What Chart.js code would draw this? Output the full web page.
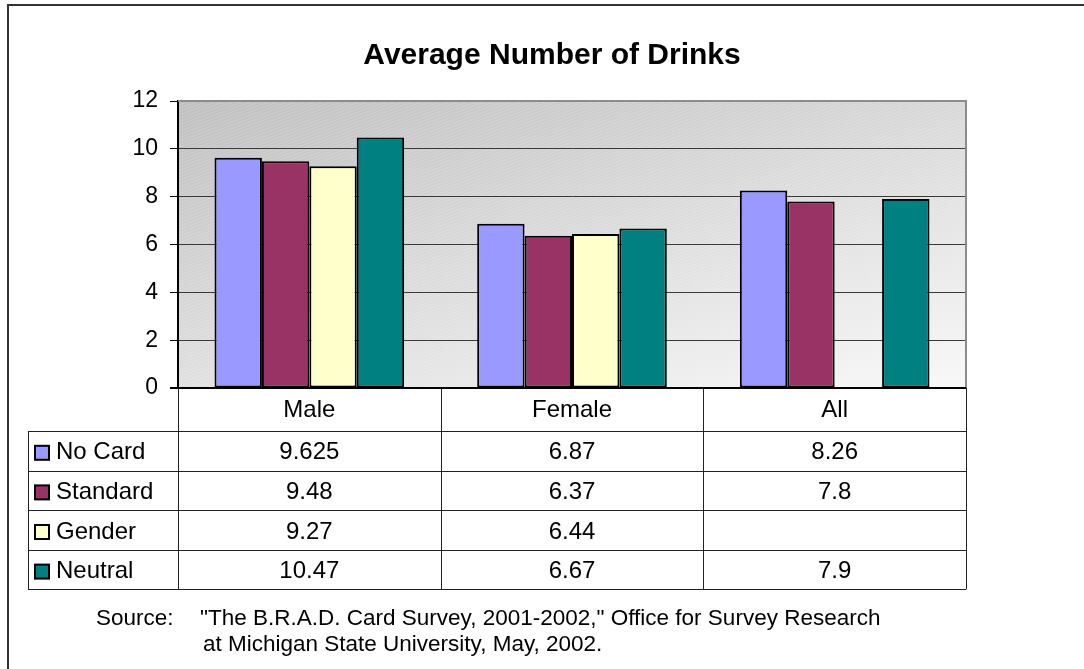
<!DOCTYPE html>
<html>
<head>
<meta charset="utf-8">
<script src="https://cdn.jsdelivr.net/npm/chart.js@4"></script>
<style>
  html, body { margin: 0; padding: 0; background: #fff; }
  #wrap { width: 1084px; height: 669px; }
</style>
</head>
<body>
<div id="wrap"><canvas id="myChart" width="1084" height="669"></canvas></div>
<script>
// categories along x
const categories = ['Male', 'Female', 'All'];

// series
const seriesNames = ['No Card', 'Standard', 'Gender', 'Neutral'];
const noCard   = [9.625, 6.87, 8.26];
const standard = [9.48, 6.37, 7.8];
const gender   = [9.27, 6.44, null];
const neutral  = [10.47, 6.67, 7.9];
const seriesColors = ['#9999FF', '#993366', '#FFFFCC', '#008080'];

// y ticks
const yTicks = [0, 2, 4, 6, 8, 10, 12];

const titleText = 'Average Number of Drinks';
const sourceLabel = 'Source:';
const sourceLines = [
  '"The B.R.A.D. Card Survey, 2001-2002," Office for Survey Research',
  'at Michigan State University, May, 2002.'
];

const FONT = '"Liberation Sans", Arial, sans-serif';
const allSeries = [noCard, standard, gender, neutral];

const datasets = seriesNames.map((name, i) => ({
  label: name,
  data: allSeries[i],
  backgroundColor: seriesColors[i],
  borderColor: '#000',
  borderWidth: 2,
  borderSkipped: false,
  categoryPercentage: 0.722,
  barPercentage: 1.0
}));

// background, frame, data table and captions
const sheet = {
  id: 'sheet',
  beforeDraw(chart) {
    const ctx = chart.ctx;
    const a = chart.chartArea;
    ctx.save();
    ctx.fillStyle = '#fff';
    ctx.fillRect(0, 0, chart.width, chart.height);
    // outer frame
    ctx.strokeStyle = '#333';
    ctx.lineWidth = 2;
    ctx.beginPath();
    ctx.moveTo(8, chart.height);
    ctx.lineTo(8, 5);
    ctx.lineTo(chart.width, 5);
    ctx.stroke();
    // plot area gradient
    const g = ctx.createLinearGradient(a.left, a.top, a.left + 128, a.top + 467);
    g.addColorStop(0, '#c0c0c0');
    g.addColorStop(1, '#f8f8f8');
    ctx.fillStyle = g;
    ctx.fillRect(a.left, a.top, a.right - a.left, a.bottom - a.top);
    // faint diagonal stripes
    ctx.beginPath();
    ctx.rect(a.left, a.top, a.right - a.left, a.bottom - a.top);
    ctx.clip();
    ctx.strokeStyle = 'rgba(255,255,255,0.16)';
    ctx.lineWidth = 1;
    for (let x = a.left - 1200; x < a.right; x += 9) {
      ctx.beginPath();
      ctx.moveTo(x, a.bottom);
      ctx.lineTo(x + 1100, a.bottom - 400);
      ctx.stroke();
    }
    ctx.restore();
  },
  afterDraw(chart) {
    const ctx = chart.ctx;
    const a = chart.chartArea;
    const xs = chart.scales.x;
    const step = (xs.right - xs.left) / categories.length;
    const headerH = 43;
    const rowH = 39.6;
    const tableLeft = 28;
    const top = a.bottom;
    const hdrBottom = top + headerH;
    const tableBottom = hdrBottom + rowH * seriesNames.length;

    ctx.save();
    // plot border top/right
    ctx.strokeStyle = '#8c8c8c';
    ctx.lineWidth = 2;
    ctx.beginPath();
    ctx.moveTo(a.left, a.top);
    ctx.lineTo(a.right, a.top);
    ctx.lineTo(a.right, a.bottom);
    ctx.stroke();

    // table lines
    ctx.strokeStyle = '#222';
    ctx.lineWidth = 1;
    ctx.beginPath();
    for (let r = 0; r <= seriesNames.length; r++) {
      const y = Math.round(hdrBottom + r * rowH) + 0.5;
      ctx.moveTo(tableLeft, y);
      ctx.lineTo(a.right, y);
    }
    ctx.moveTo(tableLeft + 0.5, hdrBottom);
    ctx.lineTo(tableLeft + 0.5, tableBottom);
    for (let c = 0; c <= categories.length; c++) {
      const x = Math.round(xs.left + c * step) + 0.5;
      ctx.moveTo(x, top);
      ctx.lineTo(x, tableBottom);
    }
    ctx.stroke();

    // x axis line
    ctx.strokeStyle = '#000';
    ctx.lineWidth = 2;
    ctx.beginPath();
    ctx.moveTo(a.left - 8, a.bottom);
    ctx.lineTo(a.right, a.bottom);
    ctx.stroke();

    // header labels
    ctx.fillStyle = '#000';
    ctx.font = '24px ' + FONT;
    ctx.textAlign = 'center';
    ctx.textBaseline = 'middle';
    categories.forEach((c, i) => {
      ctx.fillText(c, xs.getPixelForValue(i), top + headerH / 2 + 1);
    });

    // rows
    seriesNames.forEach((name, r) => {
      const cy = hdrBottom + r * rowH + rowH / 2 + 2;
      // legend key
      ctx.fillStyle = seriesColors[r];
      ctx.fillRect(35, cy - 7, 14, 14);
      ctx.strokeStyle = '#000';
      ctx.lineWidth = 2;
      ctx.strokeRect(35, cy - 7, 14, 14);
      ctx.fillStyle = '#000';
      ctx.textAlign = 'left';
      ctx.fillText(name, 56, cy);
      ctx.textAlign = 'center';
      allSeries[r].forEach((v, i) => {
        if (v !== null) ctx.fillText(String(v), xs.getPixelForValue(i), cy);
      });
    });

    // title
    ctx.font = 'bold 30px ' + FONT;
    ctx.textAlign = 'center';
    ctx.fillText(titleText, 552, 56);

    // source
    ctx.font = '22.5px ' + FONT;
    ctx.textAlign = 'left';
    ctx.fillText(sourceLabel, 96, 619);
    ctx.fillText(sourceLines[0], 200, 619);
    ctx.fillText(sourceLines[1], 203, 645);
    ctx.restore();
  }
};

const config = {
  type: 'bar',
  data: { labels: categories, datasets: datasets },
  options: {
    responsive: false,
    animation: false,
    layout: { padding: { left: 118, right: 118, top: 101, bottom: 281 } },
    plugins: {
      legend: { display: false },
      title: { display: false },
      tooltip: { enabled: false }
    },
    scales: {
      x: { display: false },
      y: {
        min: 0,
        max: 12,
        afterFit(scale) { scale.width = 60; },
        afterBuildTicks(scale) { scale.ticks = yTicks.map(v => ({ value: v })); },
        border: { display: true, color: '#000', width: 2 },
        grid: {
          color: ctx => (ctx.tick && ctx.tick.value === 12) ? 'rgba(0,0,0,0)' : '#3a3a3a',
          lineWidth: 1,
          tickLength: 8,
          drawTicks: true,
          tickColor: '#000'
        },
        ticks: {
          padding: 12,
          color: '#000',
          font: { size: 23, family: FONT }
        }
      }
    }
  },
  plugins: [sheet]
};

const myChart = new Chart(document.getElementById('myChart'), config);
</script>
</body>
</html>
